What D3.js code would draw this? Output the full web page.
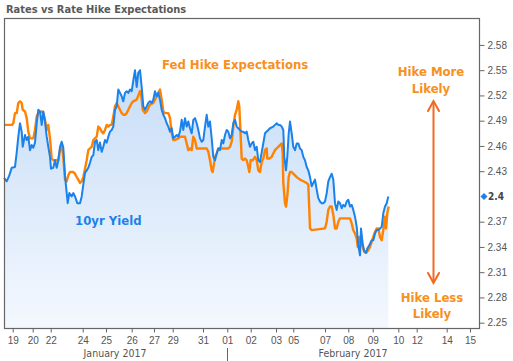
<!DOCTYPE html>
<html>
<head>
<meta charset="utf-8">
<script src="https://cdnjs.cloudflare.com/ajax/libs/d3/7.8.5/d3.min.js"></script>
<style>
  body { margin: 0; background: #fff; }
  svg { display: block; font-family: "DejaVu Sans Condensed", "DejaVu Sans", sans-serif; }
</style>
</head>
<body>
<div id="chart"></div>
<script>
// right axis ticks (2.40 is shown by the last-value marker)
var yTicks = [2.25, 2.28, 2.31, 2.34, 2.37, 2.43, 2.46, 2.49, 2.52, 2.55, 2.58];
// x is trading hours since the start of the window, weekends squeezed out
var dayTicks = [8.7, 28.7, 46.7, 78.7, 102, 127.7, 150, 168.7, 199, 223.3, 246.7, 272, 289.3, 321, 344.3, 368.7, 394.3, 412.7, 442.7, 466];
var dayLabels = ["19", "20", "22", "24", "25", "26", "27", "29", "31", "01", "02", "03", "05", "07", "08", "09", "10", "12", "14", "15"];
var months = ["January 2017", "February 2017"];
var monthCenters = [111, 349];
var monthBreak = 223.3;

// [hour, value]
var yield10 = [[0,2.422],[2.7,2.418],[5.3,2.425],[7.7,2.434],[11,2.435],[12.7,2.452],[14.3,2.471],[16,2.487],[17.7,2.477],[18.7,2.459],[21,2.473],[22.7,2.467],[24.3,2.471],[26,2.455],[27.7,2.461],[29.3,2.458],[31,2.464],[32.7,2.487],[34.3,2.503],[36,2.501],[37.7,2.485],[39.3,2.501],[41,2.489],[42.7,2.471],[44.3,2.459],[46,2.447],[47,2.433],[49.3,2.434],[51,2.443],[52.7,2.434],[54.3,2.443],[56,2.459],[57.7,2.465],[59.3,2.458],[61,2.425],[62.7,2.404],[63.7,2.392],[65.3,2.404],[67.7,2.400],[69.3,2.404],[71,2.400],[73.3,2.392],[76,2.392],[77.7,2.400],[79.3,2.414],[81,2.428],[82.7,2.431],[84.3,2.434],[86,2.440],[87.7,2.447],[89.3,2.449],[91,2.465],[92.7,2.467],[94.3,2.455],[96,2.464],[97.7,2.453],[99.3,2.459],[101,2.467],[102.7,2.464],[104.3,2.471],[106,2.477],[107.7,2.479],[109.3,2.483],[111,2.503],[112.7,2.507],[114.3,2.527],[116,2.523],[117.7,2.519],[119.3,2.513],[121,2.523],[122.7,2.525],[124.3,2.523],[126,2.527],[127.7,2.525],[129.3,2.538],[131,2.550],[132.7,2.530],[134.3,2.547],[136,2.550],[137.7,2.530],[139.3,2.507],[141,2.503],[142.7,2.507],[144.3,2.511],[146,2.513],[147.7,2.511],[149.3,2.515],[151,2.525],[152.7,2.519],[154.3,2.523],[156,2.515],[157.7,2.503],[159.3,2.497],[161,2.493],[162.7,2.487],[164.3,2.483],[166,2.477],[167.7,2.481],[169.3,2.469],[171,2.471],[172.7,2.473],[174.3,2.471],[176,2.477],[177.7,2.491],[179.3,2.479],[181,2.493],[182.7,2.483],[184.3,2.489],[186,2.481],[187.7,2.475],[189.3,2.491],[191,2.493],[192.7,2.487],[194.3,2.479],[196,2.469],[197.7,2.465],[199.3,2.467],[201,2.483],[202.7,2.497],[204.3,2.483],[206,2.489],[207.7,2.469],[209.3,2.447],[211,2.443],[212.7,2.451],[214.3,2.457],[216,2.455],[217.7,2.467],[219.3,2.463],[221,2.473],[222.7,2.479],[224.3,2.477],[226,2.469],[227.7,2.473],[229.3,2.487],[231,2.491],[232.7,2.483],[236,2.479],[237.7,2.477],[239.3,2.477],[241,2.475],[242.7,2.477],[244.3,2.467],[246,2.459],[247.7,2.463],[249.3,2.465],[251,2.455],[252.7,2.459],[254.3,2.443],[256,2.441],[259.3,2.463],[261,2.475],[264.3,2.479],[266,2.481],[269.3,2.483],[271,2.485],[272.7,2.487],[274.3,2.485],[276,2.485],[277.7,2.483],[279.3,2.479],[280.3,2.447],[282,2.431],[283.3,2.447],[284.7,2.475],[286,2.489],[287.7,2.475],[289.3,2.459],[291,2.455],[292.7,2.463],[294.3,2.463],[296,2.457],[297.7,2.455],[299.3,2.447],[301,2.443],[302.7,2.435],[304.3,2.431],[306,2.423],[307.7,2.412],[309.3,2.416],[311,2.420],[312.7,2.408],[314.3,2.398],[316,2.394],[317.7,2.392],[319.3,2.392],[321,2.394],[322.7,2.404],[324.3,2.418],[326,2.423],[327.7,2.427],[329.3,2.420],[331,2.392],[332.7,2.384],[334.3,2.394],[336,2.392],[337.7,2.386],[339.3,2.390],[341,2.388],[342.7,2.394],[344.3,2.396],[346,2.388],[347.7,2.390],[349.3,2.384],[351,2.376],[352.7,2.364],[354.3,2.342],[356,2.330],[357,2.362],[358.7,2.344],[360,2.336],[362,2.333],[363.3,2.338],[365.3,2.342],[367.7,2.348],[369.3,2.348],[371,2.356],[372.7,2.360],[374.3,2.360],[376,2.362],[377.7,2.364],[379.3,2.380],[381,2.388],[382.7,2.392],[384.3,2.400]];

var hikeExp = [[0,2.485],[8,2.485],[9.3,2.487],[11,2.499],[12.7,2.499],[14.3,2.511],[16,2.513],[17.7,2.511],[18.7,2.503],[21,2.501],[22.7,2.493],[24.3,2.477],[26,2.469],[29.3,2.469],[31,2.479],[32.7,2.495],[34.3,2.499],[37.7,2.501],[39.3,2.499],[41,2.491],[42.7,2.479],[44.3,2.485],[46,2.469],[47.7,2.445],[49.3,2.443],[54.3,2.443],[56,2.455],[57.7,2.463],[59.3,2.447],[61,2.420],[62.7,2.418],[64.3,2.425],[66,2.429],[69.3,2.429],[71,2.427],[72.7,2.423],[74.3,2.420],[76,2.416],[77.7,2.418],[79.3,2.423],[81,2.433],[82.7,2.443],[84.3,2.455],[86,2.457],[87.7,2.459],[89.3,2.467],[91,2.469],[92.7,2.471],[94.3,2.483],[96,2.481],[97.7,2.477],[99.3,2.475],[101,2.479],[102.7,2.485],[104.3,2.483],[106,2.485],[107.7,2.485],[109.3,2.495],[111,2.507],[112.7,2.511],[114.3,2.507],[116,2.503],[117.7,2.499],[119.3,2.497],[121,2.497],[122.7,2.499],[124.3,2.503],[126,2.507],[127.7,2.511],[129.3,2.513],[132.7,2.515],[136,2.525],[137,2.523],[138.7,2.503],[141,2.499],[142.7,2.501],[144.3,2.505],[146,2.509],[149.3,2.511],[151,2.515],[152.7,2.519],[154.3,2.523],[156,2.527],[157.7,2.515],[159.3,2.501],[161,2.499],[164.3,2.499],[166,2.493],[167.7,2.475],[169.3,2.467],[171,2.467],[174.3,2.469],[176,2.471],[181,2.471],[182.7,2.463],[184.3,2.455],[186,2.457],[187.7,2.455],[189.3,2.471],[191,2.467],[192.7,2.457],[202.7,2.457],[204.3,2.453],[206,2.443],[207.7,2.431],[208.7,2.429],[210,2.439],[211,2.447],[212.7,2.451],[214.3,2.457],[224.3,2.457],[226,2.459],[227.7,2.465],[229.3,2.483],[231,2.497],[232.7,2.503],[234.3,2.513],[235.3,2.507],[236.7,2.471],[237.7,2.445],[239.3,2.443],[241,2.445],[242.7,2.443],[244.3,2.435],[245.3,2.429],[246.7,2.443],[248.7,2.443],[251,2.447],[252.7,2.443],[254.3,2.431],[256,2.429],[257.7,2.441],[259.3,2.445],[261,2.455],[262.7,2.457],[263.3,2.445],[265.3,2.445],[267.7,2.447],[269.3,2.451],[271,2.455],[272.7,2.457],[274.3,2.459],[276,2.461],[277.7,2.463],[278.7,2.451],[279.3,2.416],[281,2.392],[282,2.388],[283.3,2.400],[284.7,2.423],[286,2.429],[287.7,2.429],[289.3,2.427],[292.7,2.423],[296,2.420],[299.3,2.418],[302.7,2.416],[304.3,2.414],[305.3,2.384],[306,2.362],[307.7,2.360],[321,2.362],[322.7,2.370],[324.3,2.384],[326,2.388],[327.7,2.388],[329.3,2.378],[331,2.362],[332.7,2.362],[334.3,2.370],[336,2.374],[346,2.374],[347.7,2.368],[349.3,2.360],[351,2.356],[352.7,2.350],[353.7,2.340],[355.3,2.352],[357,2.344],[358.7,2.340],[360.3,2.334],[362,2.333],[364.3,2.336],[366,2.340],[367.7,2.346],[369.3,2.352],[371,2.358],[372.7,2.362],[374.3,2.362],[376,2.352],[377.7,2.348],[379.3,2.360],[381,2.376],[382,2.362],[383.3,2.380],[384.7,2.388]];

function ratesChart() {
  var self = this;
  var plot = {left: 4, right: 479, top: 18, bottom: 328};
  var blue = "#1a82ea", orange = "#ff8200", noteOrange = "#f7901e", arrowRed = "#f26a22";

  this.init = function() {
    self.svg = d3.select("#chart").append("svg")
      .attr("width", 513).attr("height", 361);

    self.x = d3.scaleLinear().domain([0, 475]).range([plot.left, plot.right]);
    self.y = d3.scaleLinear().domain([2.2437, 2.612]).range([plot.bottom, plot.top]);

    self.svg.append("text")
      .attr("x", 6).attr("y", 13)
      .style("font-size", "11px").style("font-weight", "bold")
      .style("fill", "#595959")
      .text("Rates vs Rate Hike Expectations");

    self.drawSeries();
    self.drawAxes();
    self.drawNotes();
  };

  this.drawSeries = function() {
    var grad = self.svg.append("defs").append("linearGradient")
      .attr("id", "fade").attr("gradientUnits", "userSpaceOnUse")
      .attr("x1", 0).attr("x2", 0).attr("y1", 50).attr("y2", plot.bottom);
    grad.append("stop").attr("offset", 0).attr("stop-color", "#c3dbf7");
    grad.append("stop").attr("offset", 1).attr("stop-color", "#f4f8fe");

    var area = d3.area()
      .x(function(d) { return self.x(d[0]); })
      .y0(plot.bottom)
      .y1(function(d) { return self.y(d[1]); });
    var line = d3.line()
      .x(function(d) { return self.x(d[0]); })
      .y(function(d) { return self.y(d[1]); });

    self.svg.append("path").datum(yield10)
      .attr("d", area).style("fill", "url(#fade)");

    self.svg.append("path").datum(hikeExp)
      .attr("d", line)
      .style("fill", "none").style("stroke", orange)
      .style("stroke-width", 2.4).style("stroke-linejoin", "round");

    self.svg.append("path").datum(yield10)
      .attr("d", line)
      .style("fill", "none").style("stroke", blue)
      .style("stroke-width", 2).style("stroke-linejoin", "round");

    // frame
    self.svg.append("rect")
      .attr("x", plot.left + 0.5).attr("y", plot.top + 0.5)
      .attr("width", plot.right - plot.left).attr("height", plot.bottom - plot.top)
      .style("fill", "none").style("stroke", "#666").style("stroke-width", 1.2);
  };

  this.drawAxes = function() {
    var yAxis = self.svg.append("g")
      .attr("transform", "translate(" + (plot.right + 0.5) + ",0)")
      .call(d3.axisRight(self.y).tickValues(yTicks).tickSize(5).tickSizeOuter(0)
        .tickPadding(3).tickFormat(d3.format(".2f")));
    yAxis.select(".domain").remove();

    var xAxis = self.svg.append("g")
      .attr("transform", "translate(0," + (plot.bottom + 0.5) + ")")
      .call(d3.axisBottom(self.x).tickValues(dayTicks).tickSize(4).tickSizeOuter(0)
        .tickPadding(4).tickFormat(function(d, i) { return dayLabels[i]; }));
    xAxis.select(".domain").remove();

    self.svg.selectAll(".tick line").style("stroke", "#666");
    self.svg.selectAll(".tick text")
      .attr("font-family", null)
      .style("font-size", "10px").style("fill", "#555");

    self.svg.selectAll(".month").data(months).enter().append("text")
      .attr("class", "month")
      .attr("x", function(d, i) { return self.x(monthCenters[i]); })
      .attr("y", 357)
      .attr("text-anchor", "middle")
      .style("font-size", "10.5px").style("fill", "#555")
      .text(function(d) { return d; });

    self.svg.append("line")
      .attr("x1", Math.round(self.x(monthBreak)) + 0.5).attr("x2", Math.round(self.x(monthBreak)) + 0.5)
      .attr("y1", 348).attr("y2", 361)
      .style("stroke", "#666");

    // last value marker
    var last = yield10[yield10.length - 1];
    var ly = self.y(last[1]);
    self.svg.append("path")
      .attr("d", "M0,-3.5L3.5,0L0,3.5L-3.5,0Z")
      .attr("transform", "translate(" + (plot.right + 5) + "," + ly + ")")
      .style("fill", blue);
    self.svg.append("text")
      .attr("x", plot.right + 9).attr("y", ly).attr("dy", "0.34em")
      .style("font-size", "10px").style("font-weight", "bold").style("fill", "#444")
      .text(d3.format(".2~f")(last[1]));
  };

  this.drawNotes = function() {
    function note(lines, x, y, color, anchor) {
      var t = self.svg.append("text")
        .attr("text-anchor", anchor)
        .style("font-size", "13px").style("font-weight", "bold").style("fill", color);
      lines.forEach(function(s, i) {
        t.append("tspan").attr("x", x).attr("y", y + i * 16.6).text(s);
      });
    }
    note(["Fed Hike Expectations"], 162, 69, noteOrange, "start");
    note(["10yr Yield"], 75, 224.5, blue, "start");
    note(["Hike More", "Likely"], 431, 76, noteOrange, "middle");
    note(["Hike Less", "Likely"], 432, 301.7, noteOrange, "middle");

    var ax = 433.5, top = 101, bot = 283;
    var g = self.svg.append("g")
      .style("fill", "none").style("stroke", arrowRed)
      .style("stroke-width", 2).style("stroke-linecap", "round");
    g.append("line").attr("x1", ax).attr("x2", ax).attr("y1", top + 1).attr("y2", bot - 1);
    g.append("path").attr("d", "M" + (ax - 5.5) + "," + (top + 10) + "L" + ax + "," + top + "L" + (ax + 5.5) + "," + (top + 10));
    g.append("path").attr("d", "M" + (ax - 5.5) + "," + (bot - 10) + "L" + ax + "," + bot + "L" + (ax + 5.5) + "," + (bot - 10));
  };

  this.init();
}

var chart;
chart = new ratesChart();
</script>
</body>
</html>
